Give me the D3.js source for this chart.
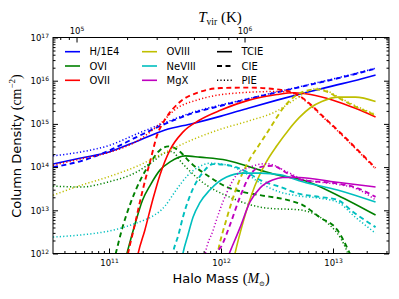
<!DOCTYPE html>
<html>
<head>
<meta charset="utf-8">
<script src="https://cdn.jsdelivr.net/npm/d3@7"></script>
<style>
  body { margin: 0; background: #fff; }
  svg { display: block; }
  .axis text { font-family: "DejaVu Sans", sans-serif; font-size: 8.5px; fill: #000; }
  .axis line { stroke: #000; }
</style>
</head>
<body>
<div id="chart"></div>
<script>
// values: [log10 halo mass (Msun), log10 column density (cm^-2)]
const hTCIE = [[10.5,14.07],[10.75,14.21],[11.0,14.35],[11.25,14.6],[11.5,14.86],[11.75,15.01],[12.0,15.18],[12.25,15.37],[12.5,15.55],[12.75,15.72],[13.0,15.88],[13.25,16.04],[13.38,16.13]];
const hCIE = [[10.5,14.0],[10.75,14.14],[11.0,14.38],[11.25,14.7],[11.5,15.0],[11.75,15.25],[12.0,15.42],[12.25,15.58],[12.5,15.73],[12.75,15.88],[13.0,16.03],[13.25,16.19],[13.38,16.28]];
const hPIE = [[10.5,14.26],[10.75,14.35],[11.0,14.5],[11.25,14.77],[11.5,15.03],[11.75,15.27],[12.0,15.44],[12.25,15.59],[12.5,15.74],[12.75,15.89],[13.0,16.04],[13.25,16.2],[13.38,16.29]];

const o6TCIE = [[11.14,11.8],[11.16,12.0],[11.23,12.66],[11.3,13.24],[11.37,13.59],[11.455,13.93],[11.545,14.12],[11.68,14.26],[11.81,14.23],[12.05,14.16],[12.35,13.93],[12.53,13.8],[12.73,13.7],[13.04,13.35],[13.38,12.89]];
const o6CIE = [[11.04,11.8],[11.06,12.0],[11.12,12.6],[11.19,13.15],[11.28,13.7],[11.37,14.1],[11.45,14.38],[11.53,14.48],[11.6,14.42],[11.75,14.05],[11.9,13.77],[12.05,13.54],[12.2,13.42],[12.35,13.35],[12.59,13.24],[12.73,13.12],[12.88,12.84],[13.04,12.54],[13.15,12.0],[13.2,11.7]];
const o6PIE = [[10.5,13.56],[10.75,13.54],[11.0,13.66],[11.25,13.89],[11.4,14.15],[11.5,14.33],[11.56,14.36],[11.65,14.1],[11.81,13.7],[12.1,13.28],[12.41,13.05],[12.7,13.01],[12.94,12.73],[13.12,12.08],[13.16,11.8]];

const o7TCIE = [[11.23,11.6],[11.26,12.0],[11.32,12.54],[11.39,13.24],[11.455,13.82],[11.545,14.4],[11.66,14.81],[11.81,15.09],[12.0,15.32],[12.25,15.55],[12.5,15.68],[12.65,15.72],[12.8,15.68],[13.0,15.55],[13.2,15.36],[13.38,15.16]];
const o7CIE = [[11.14,11.6],[11.17,12.0],[11.23,12.66],[11.29,13.35],[11.37,14.16],[11.43,14.74],[11.5,15.1],[11.63,15.5],[11.81,15.74],[12.0,15.83],[12.25,15.84],[12.5,15.8],[12.6,15.76],[12.7,15.65],[12.8,15.45],[12.9,15.2],[13.04,14.86],[13.2,14.45],[13.38,13.98]];
const o7PIE = [[10.5,14.04],[10.75,14.19],[11.0,14.34],[11.25,14.6],[11.455,15.0],[11.6,15.35],[11.81,15.57],[12.17,15.72],[12.5,15.75],[12.6,15.74],[12.7,15.63],[12.8,15.43],[12.9,15.18],[13.04,14.84],[13.2,14.43],[13.38,13.96]];

const o8TCIE = [[12.1,11.7],[12.125,12.0],[12.2,12.75],[12.3,13.55],[12.4,14.1],[12.5,14.5],[12.6,14.85],[12.7,15.15],[12.8,15.38],[12.9,15.52],[13.05,15.62],[13.2,15.62],[13.38,15.52]];
const o8CIE = [[11.95,11.7],[11.97,12.0],[12.05,12.8],[12.15,13.6],[12.25,14.15],[12.35,14.55],[12.45,14.95],[12.55,15.35],[12.65,15.62],[12.75,15.76],[12.85,15.8],[12.95,15.74],[13.05,15.6],[13.2,15.4],[13.38,15.2]];
const o8PIE = [[10.5,13.35],[10.75,13.58],[11.0,13.78],[11.25,14.02],[11.5,14.34],[11.75,14.64],[12.0,14.88],[12.25,15.07],[12.5,15.3],[12.65,15.55],[12.75,15.72],[12.85,15.82],[12.95,15.76],[13.05,15.62],[13.2,15.42],[13.38,15.22]];

const ne8TCIE = [[11.64,11.7],[11.66,12.0],[11.705,12.43],[11.75,12.84],[11.81,13.17],[11.9,13.47],[12.05,13.77],[12.2,13.86],[12.35,13.86],[12.53,13.82],[12.73,13.66],[13.04,13.47],[13.38,13.19]];
const ne8CIE = [[11.55,11.7],[11.57,12.0],[11.62,12.43],[11.66,12.84],[11.75,13.5],[11.84,13.88],[11.93,14.07],[12.05,14.05],[12.2,13.93],[12.35,13.7],[12.53,13.54],[12.7,13.38],[12.88,13.31],[13.04,13.24],[13.18,12.96],[13.38,12.61]];
const ne8PIE = [[10.5,12.38],[10.75,12.43],[11.0,12.52],[11.25,12.71],[11.4,12.88],[11.455,12.98],[11.5,13.1],[11.6,13.47],[11.7,13.8],[11.8,14.0],[11.9,14.09],[12.05,14.05],[12.2,13.89],[12.35,13.63],[12.53,13.42],[12.7,13.33],[12.88,13.28],[13.04,13.19],[13.2,12.84],[13.38,12.47]];

const mg10TCIE = [[12.05,11.85],[12.09,12.1],[12.17,12.6],[12.26,13.2],[12.35,13.52],[12.46,13.7],[12.55,13.76],[12.7,13.76],[13.0,13.66],[13.38,13.54]];
const mg10CIE = [[11.95,11.7],[11.97,12.0],[12.01,12.2],[12.08,12.66],[12.17,13.31],[12.26,13.82],[12.35,14.0],[12.46,14.03],[12.59,13.86],[12.73,13.7],[13.04,13.62],[13.21,13.52],[13.38,13.31]];
const mg10PIE = [[11.84,11.7],[11.86,12.0],[11.93,12.54],[11.99,13.01],[12.05,13.4],[12.14,13.82],[12.26,14.0],[12.41,14.08],[12.59,13.89],[12.73,13.72],[13.04,13.6],[13.21,13.5],[13.38,13.24]];

const ionNames = ['H/1E4', 'OVI', 'OVII', 'OVIII', 'NeVIII', 'MgX'];
const modelNames = ['TCIE', 'CIE', 'PIE'];
const ionSeries = [
  [hTCIE, hCIE, hPIE],
  [o6TCIE, o6CIE, o6PIE],
  [o7TCIE, o7CIE, o7PIE],
  [o8TCIE, o8CIE, o8PIE],
  [ne8TCIE, ne8CIE, ne8PIE],
  [mg10TCIE, mg10CIE, mg10PIE]
];

const massTicks = [1e11, 1e12, 1e13];
const densTicks = [1e12, 1e13, 1e14, 1e15, 1e16, 1e17];
const tvirTicks = [1e5, 1e6];
// T_vir = 1e5 K at log M = 10.71, T ~ M^(2/3)
const tvirRefMass = 10.71;

const colors = ['#0000ff', '#008000', '#ff0000', '#bfbf00', '#00bfbf', '#bf00bf'];
const dashes = [null, '5,3.5', '1.2,2.2'];
const widths = [1.6, 1.9, 1.5];

const width = 399, height = 299;
const pLeft = 53, pRight = 389, pTop = 37.5, pBottom = 253.5;

const svg = d3.select('#chart').append('svg')
  .attr('width', width).attr('height', height);

const x = d3.scaleLog().domain([Math.pow(10, 10.5), Math.pow(10, 13.5)]).range([pLeft, pRight]);
const y = d3.scaleLog().domain([1e12, 1e17]).range([pBottom, pTop]);
const toT = lm => Math.pow(10, 5 + (lm - tvirRefMass) / 1.5);
const t = d3.scaleLog().domain([toT(10.5), toT(13.5)]).range([pLeft, pRight]);

function minorTicks(scale) {
  let out = [];
  const [a, b] = scale.domain();
  for (let e = Math.floor(Math.log10(a)); e <= Math.ceil(Math.log10(b)); e++) {
    for (let k = 2; k <= 9; k++) {
      const v = k * Math.pow(10, e);
      if (v >= a && v <= b) out.push(v);
    }
  }
  return out;
}

function supLabels(g) {
  g.selectAll('.tick text').each(function(d) {
    const el = d3.select(this);
    const e = Math.round(Math.log10(d));
    el.text(null);
    el.append('tspan').text('10');
    el.append('tspan').attr('dy', '-0.5em').attr('font-size', '6px').text(e);
  });
}

function drawAxis(axis, transform, labels) {
  const g = svg.append('g').attr('class', 'axis').attr('transform', transform).call(axis);
  g.select('.domain').remove();
  if (labels) supLabels(g);
  return g;
}

// lines
svg.append('clipPath').attr('id', 'plot-clip')
  .append('rect').attr('x', pLeft).attr('y', pTop).attr('width', pRight - pLeft).attr('height', pBottom - pTop);

const line = d3.line()
  .x(d => x(Math.pow(10, d[0])))
  .y(d => y(Math.pow(10, d[1])))
  .curve(d3.curveMonotoneX);

const plot = svg.append('g').attr('clip-path', 'url(#plot-clip)');
ionSeries.forEach((set, i) => {
  set.forEach((pts, j) => {
    plot.append('path')
      .attr('d', line(pts))
      .attr('fill', 'none')
      .attr('stroke', colors[i])
      .attr('stroke-width', widths[j])
      .attr('stroke-dasharray', dashes[j]);
  });
});

// axes, ticks pointing inward
drawAxis(d3.axisBottom(x).tickValues(massTicks).tickSize(-5).tickPadding(6).tickSizeOuter(0), `translate(0,${pBottom})`, true);
drawAxis(d3.axisBottom(x).tickValues(minorTicks(x)).tickSize(-2.5).tickFormat('').tickSizeOuter(0), `translate(0,${pBottom})`, false);
drawAxis(d3.axisLeft(y).tickValues(densTicks).tickSize(-5).tickPadding(4).tickSizeOuter(0), `translate(${pLeft},0)`, true);
drawAxis(d3.axisLeft(y).tickValues(minorTicks(y)).tickSize(-2.5).tickFormat('').tickSizeOuter(0), `translate(${pLeft},0)`, false);
drawAxis(d3.axisRight(y).tickValues(densTicks).tickSize(-5).tickFormat('').tickSizeOuter(0), `translate(${pRight},0)`, false);
drawAxis(d3.axisRight(y).tickValues(minorTicks(y)).tickSize(-2.5).tickFormat('').tickSizeOuter(0), `translate(${pRight},0)`, false);
drawAxis(d3.axisTop(t).tickValues(tvirTicks).tickSize(-5).tickPadding(4).tickSizeOuter(0), `translate(0,${pTop})`, true);
drawAxis(d3.axisTop(t).tickValues(minorTicks(t)).tickSize(-2.5).tickFormat('').tickSizeOuter(0), `translate(0,${pTop})`, false);

svg.append('rect')
  .attr('x', pLeft).attr('y', pTop).attr('width', pRight - pLeft).attr('height', pBottom - pTop)
  .attr('fill', 'none').attr('stroke', '#000').attr('stroke-width', 1);

// axis titles
const xl = svg.append('text').attr('x', 221).attr('y', 283).attr('text-anchor', 'middle')
  .attr('font-family', 'DejaVu Sans, sans-serif').attr('font-size', '13px');
xl.append('tspan').text('Halo Mass ');
xl.append('tspan').attr('font-family', 'Liberation Serif, serif').attr('font-size', '14px').text('(');
xl.append('tspan').attr('font-family', 'Liberation Serif, serif').attr('font-size', '14px').attr('font-style', 'italic').text('M');
xl.append('tspan').attr('font-family', 'DejaVu Serif, serif').attr('font-size', '7px').attr('dy', '3').text('\u2299');
xl.append('tspan').attr('font-family', 'Liberation Serif, serif').attr('font-size', '14px').attr('dy', '-3').text(')');

const yl = svg.append('text').attr('transform', 'translate(21,146) rotate(-90)').attr('text-anchor', 'middle')
  .attr('font-family', 'DejaVu Sans, sans-serif').attr('font-size', '13px');
yl.append('tspan').text('Column Density ');
yl.append('tspan').attr('font-family', 'Liberation Serif, serif').attr('font-size', '14px').text('(cm');
yl.append('tspan').attr('font-family', 'Liberation Serif, serif').attr('font-size', '9px').attr('dy', '-6').text('\u22122');
yl.append('tspan').attr('font-family', 'Liberation Serif, serif').attr('font-size', '14px').attr('dy', '6').text(')');

const tl = svg.append('text').attr('x', 220).attr('y', 22).attr('text-anchor', 'middle')
  .attr('font-family', 'Liberation Serif, serif').attr('font-size', '15px');
tl.append('tspan').attr('font-style', 'italic').text('T');
tl.append('tspan').attr('font-size', '9.5px').attr('dy', '3').text('vir');
tl.append('tspan').attr('dy', '-3').text(' (K)');

// legend, three columns, no frame
const legendCols = [65, 142, 217];
const legendRows = [51.7, 66, 80.3];
const legendItems = ionNames.map((n, i) => ({ label: n, color: colors[i], style: 0 }))
  .concat(modelNames.map((n, j) => ({ label: n, color: '#000', style: j })));
const leg = svg.append('g');
legendItems.forEach((d, k) => {
  const cx = legendCols[Math.floor(k / 3)], cy = legendRows[k % 3];
  leg.append('line')
    .attr('x1', cx).attr('x2', cx + 15).attr('y1', cy).attr('y2', cy)
    .attr('stroke', d.color).attr('stroke-width', widths[d.style])
    .attr('stroke-dasharray', dashes[d.style]);
  leg.append('text')
    .attr('x', cx + 24.5).attr('y', cy).attr('dy', '0.35em')
    .attr('font-family', 'DejaVu Sans, sans-serif').attr('font-size', '10px')
    .text(d.label);
});
</script>
</body>
</html>
